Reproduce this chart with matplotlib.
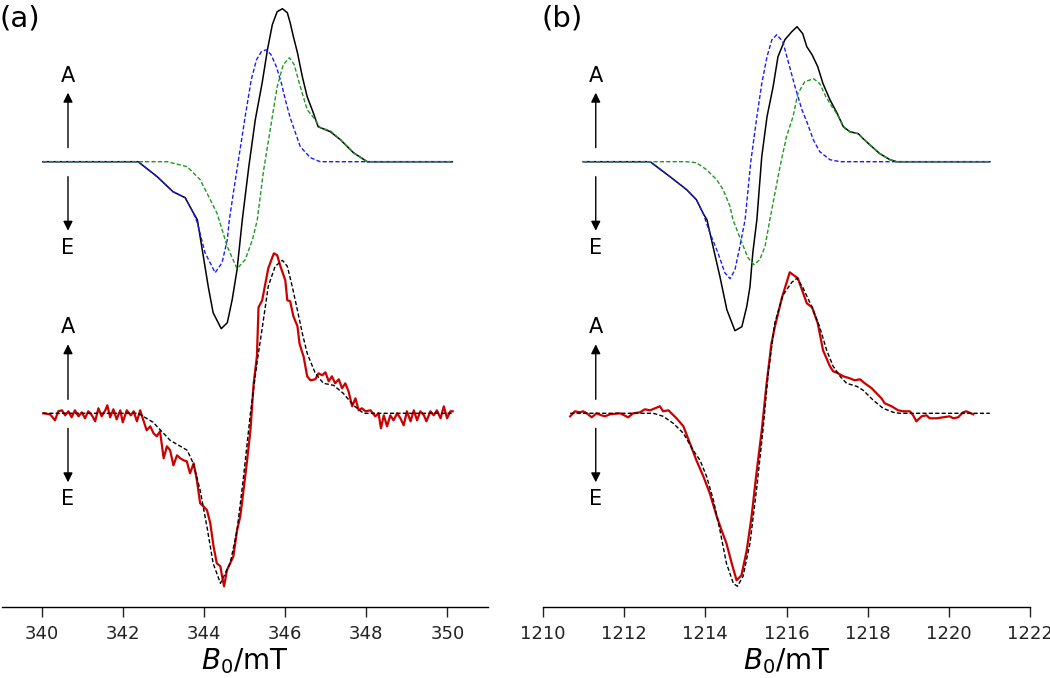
import numpy as np
import matplotlib
matplotlib.use("Agg")
import matplotlib.pyplot as plt

plt.rcParams['mathtext.fontset'] = 'dejavusans'

# (B0 in mT, signal in arbitrary units)
# ---------------- panel (a): 340 mT ----------------
a_tot = [(340.02, 0), (342.37, 0), (342.84, -0.15), (343.23, -0.30), (343.53, -0.36),
         (343.73, -0.51), (343.83, -0.58), (343.98, -0.95), (344.10, -1.25), (344.22, -1.51),
         (344.42, -1.67), (344.57, -1.61), (344.69, -1.38), (344.81, -1.08), (344.94, -0.58),
         (345.10, -0.05), (345.26, 0.42), (345.43, 0.79), (345.56, 1.12), (345.68, 1.37),
         (345.80, 1.50), (345.93, 1.53), (346.05, 1.49), (346.12, 1.39), (346.20, 1.25),
         (346.30, 1.09), (346.42, 0.85), (346.54, 0.65), (346.69, 0.49), (346.81, 0.35),
         (347.11, 0.30), (347.36, 0.22), (347.68, 0.09), (348.02, 0), (350.12, 0)]
a_blue = [(340.02, 0), (342.37, 0), (342.84, -0.15), (343.23, -0.30), (343.53, -0.36),
          (343.73, -0.51), (343.83, -0.61), (344.02, -0.91), (344.27, -1.11), (344.44, -1.01),
          (344.57, -0.78), (344.62, -0.58), (344.72, -0.31), (345.01, 0.45), (345.16, 0.82),
          (345.29, 1.02), (345.41, 1.10), (345.53, 1.12), (345.65, 1.07), (345.78, 0.95),
          (345.90, 0.79), (346.02, 0.59), (346.12, 0.44), (346.37, 0.15), (346.62, 0.04),
          (346.86, 0), (350.12, 0)]
a_green = [(340.02, 0), (343.09, 0), (343.58, -0.05), (343.90, -0.18), (344.15, -0.38),
           (344.32, -0.52), (344.57, -0.85), (344.81, -1.07), (345.01, -0.98), (345.19, -0.78),
           (345.31, -0.58), (345.46, -0.10), (345.68, 0.45), (345.80, 0.75), (345.95, 0.97),
           (346.10, 1.04), (346.22, 0.97), (346.37, 0.75), (346.54, 0.52), (346.74, 0.42),
           (346.86, 0.34), (347.11, 0.31), (347.36, 0.22), (347.68, 0.09), (348.02, 0),
           (350.12, 0)]
a_fit = [(340.02, 0), (342.37, 0), (342.74, -0.09), (343.16, -0.27), (343.58, -0.37),
         (343.73, -0.50), (343.90, -0.77), (344.07, -1.14), (344.22, -1.50), (344.40, -1.70),
         (344.64, -1.50), (344.81, -1.17), (344.96, -0.67), (345.14, 0.00), (345.30, 0.50),
         (345.43, 0.85), (345.58, 1.27), (345.75, 1.47), (345.93, 1.53), (346.05, 1.47),
         (346.17, 1.27), (346.30, 1.03), (346.42, 0.80), (346.54, 0.60), (346.74, 0.40),
         (346.94, 0.30), (347.19, 0.28), (347.43, 0.20), (347.68, 0.08), (347.93, 0),
         (350.12, 0)]
a_exp_x = [340.03, 340.20, 340.32, 340.40, 340.49, 340.57, 340.65, 340.73, 340.81, 340.90,
           340.98, 341.06, 341.14, 341.23, 341.31, 341.39, 341.47, 341.56, 341.61, 341.68,
           341.76, 341.84, 341.93, 341.99, 342.09, 342.19, 342.26, 342.34, 342.42, 342.50,
           342.58, 342.67, 342.75, 342.83, 342.91, 343.00, 343.08, 343.16, 343.24, 343.33,
           343.41, 343.49, 343.57, 343.65, 343.74, 343.82, 343.90, 343.98, 344.07, 344.15,
           344.23, 344.31, 344.40, 344.44, 344.49, 344.56, 344.64, 344.72, 344.81, 344.89,
           344.97, 345.05, 345.14, 345.22, 345.30, 345.34, 345.43, 345.58, 345.68, 345.72,
           345.80, 345.88, 346.00, 346.05, 346.12, 346.20, 346.30, 346.35, 346.40, 346.45,
           346.54, 346.62, 346.74, 346.82, 346.91, 346.99, 347.07, 347.15, 347.23, 347.32,
           347.40, 347.48, 347.56, 347.65, 347.73, 347.81, 347.89, 347.98, 348.10, 348.22,
           348.30, 348.36, 348.43, 348.51, 348.59, 348.67, 348.76, 348.84, 348.92, 349.00,
           349.09, 349.17, 349.25, 349.33, 349.42, 349.48, 349.58, 349.66, 349.74, 349.83,
           349.91, 349.99, 350.07, 350.13]
a_exp_y = [0.00, -0.01, -0.07, 0.02, 0.03, -0.02, 0.02, -0.04, 0.03, -0.03,
           0.01, -0.05, 0.02, -0.02, -0.08, 0.05, -0.03, 0.03, 0.08, -0.04,
           0.04, -0.06, 0.03, -0.09, 0.03, -0.02, 0.02, -0.08, 0.03, -0.07,
           -0.17, -0.13, -0.20, -0.23, -0.18, -0.45, -0.33, -0.37, -0.52, -0.42,
           -0.45, -0.47, -0.48, -0.60, -0.50, -0.67, -0.90, -0.93, -0.97, -1.10,
           -1.33, -1.50, -1.53, -1.63, -1.73, -1.57, -1.50, -1.43, -1.17, -1.03,
           -0.77, -0.50, -0.17, 0.30, 0.57, 1.06, 1.13, 1.45, 1.56, 1.60,
           1.58, 1.47, 1.33, 1.13, 1.12, 0.97, 0.87, 0.70, 0.63, 0.57,
           0.37, 0.33, 0.34, 0.40, 0.38, 0.41, 0.32, 0.37, 0.30, 0.34,
           0.25, 0.30, 0.22, 0.07, 0.15, 0.03, 0.05, 0.02, 0.03, -0.03,
           0.00, -0.15, -0.02, -0.13, -0.02, -0.07, 0.00, -0.05, -0.12, 0.02,
           -0.08, 0.03, -0.07, 0.02, -0.02, -0.08, 0.02, -0.02, 0.03, -0.05,
           0.07, -0.05, 0.02, 0.02]

# ---------------- panel (b): 1216 mT ----------------
b_tot = [(1210.99, 0), (1212.64, 0), (1213.13, -0.15), (1213.54, -0.28), (1213.78, -0.38),
         (1213.95, -0.52), (1214.04, -0.58), (1214.19, -0.85), (1214.36, -1.15), (1214.53, -1.48),
         (1214.73, -1.69), (1214.90, -1.65), (1215.02, -1.45), (1215.10, -1.25), (1215.17, -0.91),
         (1215.27, -0.58), (1215.39, 0.05), (1215.52, 0.45), (1215.67, 0.75), (1215.79, 1.05),
         (1215.96, 1.22), (1216.13, 1.30), (1216.26, 1.35), (1216.40, 1.28), (1216.50, 1.15),
         (1216.63, 1.07), (1216.77, 0.95), (1216.90, 0.78), (1217.07, 0.62), (1217.24, 0.49),
         (1217.40, 0.35), (1217.56, 0.30), (1217.77, 0.28), (1217.89, 0.23), (1218.05, 0.17),
         (1218.30, 0.08), (1218.55, 0.02), (1218.71, 0), (1221.01, 0)]
b_blue = [(1210.99, 0), (1212.64, 0), (1213.13, -0.15), (1213.54, -0.28), (1213.78, -0.38),
          (1213.95, -0.52), (1214.11, -0.71), (1214.31, -0.91), (1214.48, -1.11), (1214.61, -1.17),
          (1214.73, -1.08), (1214.85, -0.85), (1214.98, -0.58), (1215.12, 0.00), (1215.27, 0.45),
          (1215.39, 0.78), (1215.52, 1.05), (1215.64, 1.22), (1215.76, 1.27), (1215.91, 1.20),
          (1216.03, 1.02), (1216.21, 0.75), (1216.38, 0.52), (1216.50, 0.40), (1216.66, 0.22),
          (1216.82, 0.10), (1217.07, 0.02), (1217.32, 0), (1221.01, 0)]
b_green = [(1210.99, 0), (1213.54, 0), (1213.78, -0.01), (1214.03, -0.08), (1214.28, -0.18),
           (1214.44, -0.28), (1214.61, -0.45), (1214.68, -0.58), (1214.90, -0.81), (1215.05, -0.96),
           (1215.20, -1.03), (1215.34, -0.98), (1215.47, -0.85), (1215.59, -0.58), (1215.84, -0.05),
           (1216.00, 0.25), (1216.16, 0.45), (1216.28, 0.68), (1216.45, 0.80), (1216.67, 0.83),
           (1216.82, 0.78), (1216.97, 0.65), (1217.12, 0.55), (1217.24, 0.48), (1217.44, 0.33),
           (1217.60, 0.29), (1217.77, 0.28), (1217.89, 0.23), (1218.05, 0.17), (1218.30, 0.08),
           (1218.55, 0.02), (1218.71, 0), (1221.01, 0)]
b_fit = [(1210.67, 0), (1212.72, 0), (1212.96, -0.03), (1213.21, -0.10), (1213.46, -0.20),
         (1213.70, -0.37), (1213.87, -0.47), (1214.03, -0.63), (1214.20, -0.87), (1214.36, -1.17),
         (1214.52, -1.50), (1214.69, -1.70), (1214.79, -1.73), (1214.93, -1.63), (1215.10, -1.30),
         (1215.26, -0.77), (1215.42, -0.17), (1215.55, 0.40), (1215.71, 0.90), (1215.91, 1.18),
         (1216.13, 1.31), (1216.26, 1.35), (1216.40, 1.26), (1216.63, 1.06), (1216.82, 0.86),
         (1216.99, 0.63), (1217.15, 0.47), (1217.32, 0.37), (1217.48, 0.30), (1217.73, 0.27),
         (1217.89, 0.23), (1218.14, 0.13), (1218.38, 0.05), (1218.63, 0.01), (1218.79, 0),
         (1221.01, 0)]
b_exp = [(1210.67, -0.03), (1210.79, 0.02), (1210.91, 0.01), (1210.99, 0.02), (1211.08, 0.00),
         (1211.20, -0.04), (1211.32, 0.00), (1211.44, -0.02), (1211.53, -0.03), (1211.65, -0.01),
         (1211.90, 0.00), (1212.10, -0.04), (1212.22, 0.00), (1212.39, 0.01), (1212.51, 0.04),
         (1212.64, 0.03), (1212.76, 0.05), (1212.88, 0.07), (1212.96, 0.02), (1213.09, 0.03),
         (1213.29, -0.05), (1213.46, -0.13), (1213.62, -0.30), (1213.78, -0.47), (1213.95, -0.63),
         (1214.11, -0.80), (1214.28, -1.03), (1214.40, -1.17), (1214.52, -1.30), (1214.65, -1.50),
         (1214.77, -1.67), (1214.89, -1.62), (1215.02, -1.37), (1215.14, -1.03), (1215.26, -0.60),
         (1215.39, -0.17), (1215.51, 0.30), (1215.63, 0.70), (1215.71, 0.86), (1215.89, 1.16),
         (1216.08, 1.41), (1216.28, 1.35), (1216.50, 1.10), (1216.63, 1.06), (1216.77, 0.90),
         (1216.90, 0.63), (1217.07, 0.47), (1217.15, 0.42), (1217.27, 0.40), (1217.40, 0.37),
         (1217.56, 0.35), (1217.68, 0.33), (1217.81, 0.34), (1217.93, 0.30), (1218.10, 0.25),
         (1218.22, 0.20), (1218.34, 0.15), (1218.42, 0.10), (1218.59, 0.07), (1218.75, 0.03),
         (1218.88, 0.02), (1219.04, 0.02), (1219.12, -0.02), (1219.20, -0.08), (1219.33, -0.03),
         (1219.45, -0.02), (1219.53, -0.05), (1219.70, -0.05), (1219.86, -0.04), (1220.02, -0.03),
         (1220.11, -0.05), (1220.23, -0.04), (1220.35, 0.01), (1220.43, 0.02), (1220.60, -0.01)]

a_ticks = [340, 342, 344, 346, 348, 350]
b_ticks = [1210, 1212, 1214, 1216, 1218, 1220, 1222]

TOP = 2.516          # vertical offset of the simulated components
DASH = (0, (3, 1.6))
RED = '#cc0000'
BLUE = '#1a1aff'
GREEN = '#1e9a1e'

fig = plt.figure(figsize=(10.5, 6.78), dpi=100)
W, H = 1050, 678


def xy(pairs, off=0.0):
    arr = np.array(pairs, dtype=float)
    return arr[:, 0], arr[:, 1] + off


def panel(rect, xlim, ticks, d, arrow_x):
    ax = fig.add_axes(rect)
    ax.plot(*xy(d['tot'], TOP), color='black', lw=1.1)
    ax.plot(*xy(d['blue'], TOP), color=BLUE, lw=1.0, ls=DASH)
    ax.plot(*xy(d['green'], TOP), color=GREEN, lw=1.0, ls=DASH)
    ax.plot(d['exp'][0], d['exp'][1], color=RED, lw=1.6)
    ax.plot(*xy(d['fit']), color='black', lw=1.0, ls=DASH)
    ax.set_xlim(*xlim)
    ax.set_ylim(-1.937, 4.133)
    for s in ('left', 'right', 'top'):
        ax.spines[s].set_visible(False)
    ax.spines['bottom'].set_linewidth(1.0)
    ax.set_yticks([])
    ax.set_xticks(ticks)
    ax.tick_params(axis='x', direction='out', length=7, width=1.0,
                   labelsize=13, pad=6, colors='#222222')
    ax.set_xlabel(r'$B_0/\mathrm{mT}$', fontsize=20, labelpad=2)
    # A / E arrows
    for base in (TOP, 0.0):
        ax.annotate('', xy=(arrow_x, base + 0.69), xytext=(arrow_x, base + 0.14),
                    arrowprops=dict(arrowstyle='-|>', color='black', lw=1.0,
                                    mutation_scale=14, shrinkA=0, shrinkB=0))
        ax.annotate('', xy=(arrow_x, base - 0.69), xytext=(arrow_x, base - 0.15),
                    arrowprops=dict(arrowstyle='-|>', color='black', lw=1.0,
                                    mutation_scale=14, shrinkA=0, shrinkB=0))
        ax.text(arrow_x, base + 0.86, 'A', ha='center', va='center', fontsize=15)
        ax.text(arrow_x, base - 0.86, 'E', ha='center', va='center', fontsize=15)
    return ax


b_exp_x, b_exp_y = xy(b_exp)
da = {'tot': a_tot, 'blue': a_blue, 'green': a_green,
      'exp': (a_exp_x, a_exp_y), 'fit': a_fit}
db = {'tot': b_tot, 'blue': b_blue, 'green': b_green,
      'exp': (b_exp_x, b_exp_y), 'fit': b_fit}

bottom = 1 - 607 / H
height = 607 / H
panel([1.5 / W, bottom, 486.5 / W, height], (339, 351), a_ticks, da, 340.64)
panel([543 / W, bottom, 487 / W, height], (1210, 1222), b_ticks, db, 1211.30)

fig.text(0.0, 1 - 18 / H, '(a)', fontsize=21, ha='left', va='center')
fig.text(541 / W, 1 - 18 / H, '(b)', fontsize=21, ha='left', va='center')

fig.savefig('out.png', dpi=100)
